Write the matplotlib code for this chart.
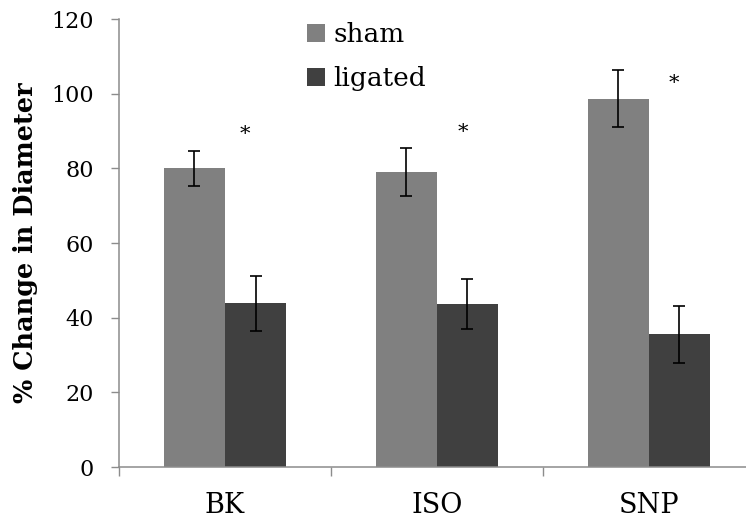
import numpy as np
import matplotlib
matplotlib.use('Agg')
import matplotlib.pyplot as plt

categories = ['BK', 'ISO', 'SNP']
sham = [80.0, 79.1, 98.7]
sham_err = [4.7, 6.4, 7.7]
ligated = [43.8, 43.7, 35.5]
ligated_err = [7.4, 6.7, 7.6]
# significance marks: (x position, y value)
star_x = [0.094, 1.121, 2.118]
star_y = [89.0, 89.5, 102.8]

plt.rcParams['font.family'] = 'DejaVu Serif'

fig = plt.figure(figsize=(7.46, 5.22), dpi=100)
ax = fig.add_axes([119/746, 55/522, 627/746, 448/522])

x = np.arange(len(categories))
w = 0.288
ax.bar(x - w/2, sham, w, color='#808080', label='sham', zorder=2)
ax.bar(x + w/2, ligated, w, color='#404040', label='ligated', zorder=2)
ax.errorbar(x - w/2, sham, yerr=sham_err, fmt='none', ecolor='black',
            elinewidth=1.2, capsize=4.5, capthick=1.2, zorder=3)
ax.errorbar(x + w/2, ligated, yerr=ligated_err, fmt='none', ecolor='black',
            elinewidth=1.2, capsize=4.5, capthick=1.2, zorder=3)

for sx, sy in zip(star_x, star_y):
    ax.text(sx, sy, '*', fontsize=15, ha='center', va='center')

ax.set_xlim(-0.5, 2.458)
ax.set_ylim(0, 120)
ax.set_yticks(range(0, 121, 20))
ax.tick_params(axis='y', labelsize=16, length=6, width=1, color='#8c8c8c', pad=12)

# ticks at category boundaries, labels at centers
ax.set_xticks([-0.5, 0.5, 1.5])
ax.set_xticklabels([])
ax.set_xticks(x, minor=True)
ax.set_xticklabels(categories, minor=True)
ax.tick_params(axis='x', which='major', length=6.5, width=1, color='#8c8c8c')
ax.tick_params(axis='x', which='minor', length=0, labelsize=19.5, pad=18)

for s in ['top', 'right']:
    ax.spines[s].set_visible(False)
for s in ['left', 'bottom']:
    ax.spines[s].set_color('#8c8c8c')
    ax.spines[s].set_linewidth(1.1)

ax.set_ylabel('% Change in Diameter', fontsize=18.4, fontweight='bold')
ax.yaxis.set_label_coords(-0.129, 0.5)

ax.legend(loc='upper left', bbox_to_anchor=(307/746, 1 - 22/522),
          bbox_transform=fig.transFigure, frameon=False, fontsize=19,
          handlelength=0.7, handleheight=0.7, handletextpad=0.3,
          labelspacing=0.72, borderpad=0, borderaxespad=0)

fig.savefig('out.png', dpi=100)
